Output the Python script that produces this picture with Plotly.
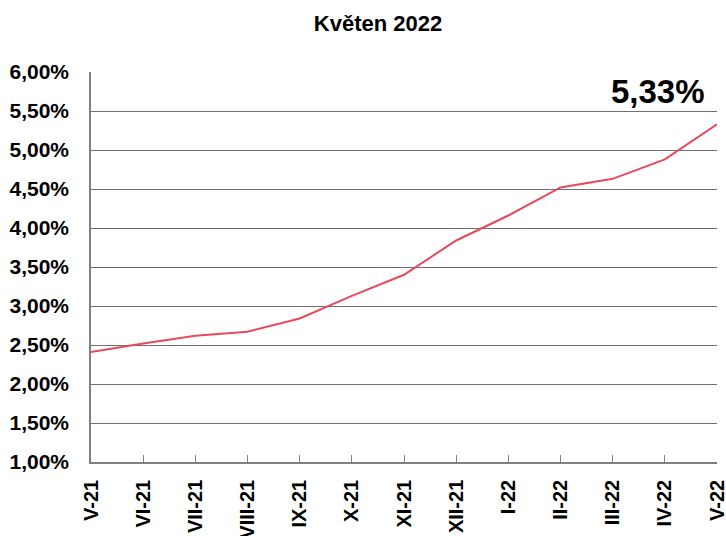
import plotly.graph_objects as go

months = ["V-21", "VI-21", "VII-21", "VIII-21", "IX-21", "X-21", "XI-21",
          "XII-21", "I-22", "II-22", "III-22", "IV-22", "V-22"]
values = [2.41, 2.52, 2.62, 2.67, 2.84, 3.13, 3.40, 3.84, 4.16, 4.52, 4.63, 4.88, 5.33]
y_ticks = [1.0, 1.5, 2.0, 2.5, 3.0, 3.5, 4.0, 4.5, 5.0, 5.5, 6.0]
y_tick_labels = ["1,00%", "1,50%", "2,00%", "2,50%", "3,00%", "3,50%",
                 "4,00%", "4,50%", "5,00%", "5,50%", "6,00%"]
title_text = "Květen 2022"
last_label = "5,33%"

font_family = "Liberation Sans, Arial, sans-serif"

fig = go.Figure()
fig.add_trace(go.Scatter(
    x=list(range(len(months))), y=values, mode="lines",
    line=dict(color="#e8495c", width=2),
    hoverinfo="skip", showlegend=False,
))

fig.add_annotation(
    x=1.0, y=5.75, xref="paper", yref="y",
    text=last_label, showarrow=False,
    xanchor="right", yanchor="middle", xshift=-10,
    font=dict(family=font_family, size=33, color="#000000", weight="bold"),
)

fig.update_layout(
    width=726, height=536,
    margin=dict(l=91, r=9, t=72, b=74, autoexpand=False),
    paper_bgcolor="white", plot_bgcolor="white",
    title=dict(text=title_text, x=378 / 726, xanchor="center", y=1 - 23 / 536, yanchor="middle",
               font=dict(family=font_family, size=22, color="#000000", weight="bold")),
    font=dict(family=font_family, color="#000000"),
)

fig.update_xaxes(
    range=[0, len(months) - 1],
    tickvals=list(range(len(months))), ticktext=months,
    tickangle=-90,
    tickfont=dict(family=font_family, size=20, color="#000000", weight="bold"),
    showgrid=False, zeroline=False,
    showline=True, linecolor="#808080", linewidth=1.5,
    ticks="inside", ticklen=7, tickcolor="#808080", tickwidth=1,
    ticklabelstandoff=8, automargin=False, ticklabeloverflow="allow",
)

fig.update_yaxes(
    range=[1.0, 6.0],
    tickvals=y_ticks, ticktext=y_tick_labels,
    tickfont=dict(family=font_family, size=21, color="#000000", weight="bold"),
    showgrid=True, gridcolor="#707070", gridwidth=1.3,
    zeroline=False,
    showline=True, linecolor="#808080", linewidth=1.5,
    ticks="", ticklabelstandoff=16, automargin=False,
)

fig.write_html("out.html", config={"displayModeBar": False},
               post_script="document.body.style.margin='0';")
